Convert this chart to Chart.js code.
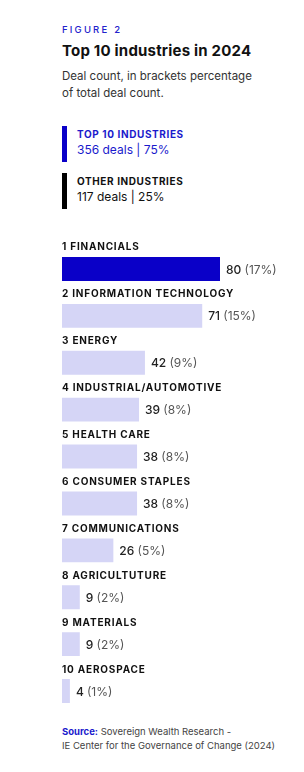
<!DOCTYPE html>
<html>
<head>
<meta charset="utf-8">
<script src="https://cdn.jsdelivr.net/npm/chart.js@4/dist/chart.umd.min.js"></script>
<style>
  html, body { margin: 0; padding: 0; background: #fff; width: 304px; height: 772px; overflow: hidden; }
  body { position: relative; font-family: Inter, "Open Sans", sans-serif; }
  .t { position: absolute; white-space: nowrap; }
  #fig { left: 62px; top: 24px; font-size: 9.5px; letter-spacing: 2.2px; color: #2222cc; font-weight: 500; }
  #title { left: 62px; top: 41px; font-size: 15px; font-weight: 700; color: #111; letter-spacing: 0.2px; }
  #sub { left: 62px; top: 68px; font-size: 11.5px; line-height: 17px; color: #333; }
  .lg { position: absolute; left: 62px; width: 5px; }
  .lt { position: absolute; left: 77px; white-space: nowrap; }
  .lt b { display: block; font-size: 10px; font-weight: 700; line-height: 15px; letter-spacing: 0.6px; }
  .lt span { display: block; font-size: 12px; line-height: 15px; }
  #src { left: 62px; top: 725px; font-size: 9.5px; line-height: 13.5px; color: #444; }
  #src b { color: #1a1acc; }
  #wrap { position: absolute; left: 0; top: 225px; width: 304px; height: 500px; }
</style>
</head>
<body>
<div class="t" id="fig">FIGURE 2</div>
<div class="t" id="title">Top 10 industries in 2024</div>
<div class="t" id="sub">Deal count, in brackets percentage<br>of total deal count.</div>

<div class="lg" style="top:126px;height:36px;background:#0a00c8;"></div>
<div class="lt" style="top:127px;color:#1a1acc;"><b>TOP 10 INDUSTRIES</b><span>356 deals | 75%</span></div>
<div class="lg" style="top:173px;height:36px;background:#000;"></div>
<div class="lt" style="top:174px;color:#111;"><b>OTHER INDUSTRIES</b><span>117 deals | 25%</span></div>

<div id="wrap"><canvas id="c"></canvas></div>

<div class="t" id="src"><b>Source:</b> Sovereign Wealth Research -<br>IE Center for the Governance of Change (2024)</div>

<script>
const categories = ["1 FINANCIALS", "2 INFORMATION TECHNOLOGY", "3 ENERGY", "4 INDUSTRIAL/AUTOMOTIVE", "5 HEALTH CARE", "6 CONSUMER STAPLES", "7 COMMUNICATIONS", "8 AGRICULTUTURE", "9 MATERIALS", "10 AEROSPACE"];
const dealCounts = [80, 71, 42, 39, 38, 38, 26, 9, 9, 4];
const sharePercent = [17, 15, 9, 8, 8, 8, 5, 2, 2, 1];

const FONT = 'Inter, "Open Sans", sans-serif';
const barColors = dealCounts.map((v, i) => i === 0 ? '#0a00c8' : '#d5d5f6');

const labelPlugin = {
  id: 'rowLabels',
  afterDatasetsDraw(chart) {
    const ctx = chart.ctx;
    const meta = chart.getDatasetMeta(0);
    const left = chart.chartArea.left;
    ctx.save();
    meta.data.forEach((bar, i) => {
      const top = bar.y - bar.height / 2;
      ctx.textBaseline = 'middle';
      ctx.textAlign = 'left';
      ctx.fillStyle = '#111';
      ctx.font = '700 10px ' + FONT;
      ctx.letterSpacing = '0.8px';
      ctx.fillText(categories[i], left, top - 9.5);
      ctx.letterSpacing = '0px';
      const x0 = bar.x + 6;
      ctx.font = '500 12px ' + FONT;
      ctx.fillStyle = '#222';
      const num = String(dealCounts[i]);
      ctx.fillText(num, x0, bar.y + 1);
      const w = ctx.measureText(num + ' ').width;
      ctx.font = '400 12px ' + FONT;
      ctx.fillStyle = '#555';
      ctx.fillText('(' + sharePercent[i] + '%)', x0 + w, bar.y + 1);
    });
    ctx.restore();
  }
};

new Chart(document.getElementById('c'), {
  type: 'bar',
  data: {
    labels: categories,
    datasets: [{
      data: dealCounts,
      backgroundColor: barColors,
      borderWidth: 0,
      barPercentage: 0.51,
      categoryPercentage: 1.0
    }]
  },
  options: {
    indexAxis: 'y',
    responsive: true,
    maintainAspectRatio: false,
    animation: false,
    layout: { padding: { left: 62, right: 5, top: 20.5, bottom: 10.5 } },
    plugins: { legend: { display: false }, tooltip: { enabled: false } },
    scales: {
      x: { display: false, min: 0, max: 120 },
      y: { display: false }
    }
  },
  plugins: [labelPlugin]
});
</script>
</body>
</html>
